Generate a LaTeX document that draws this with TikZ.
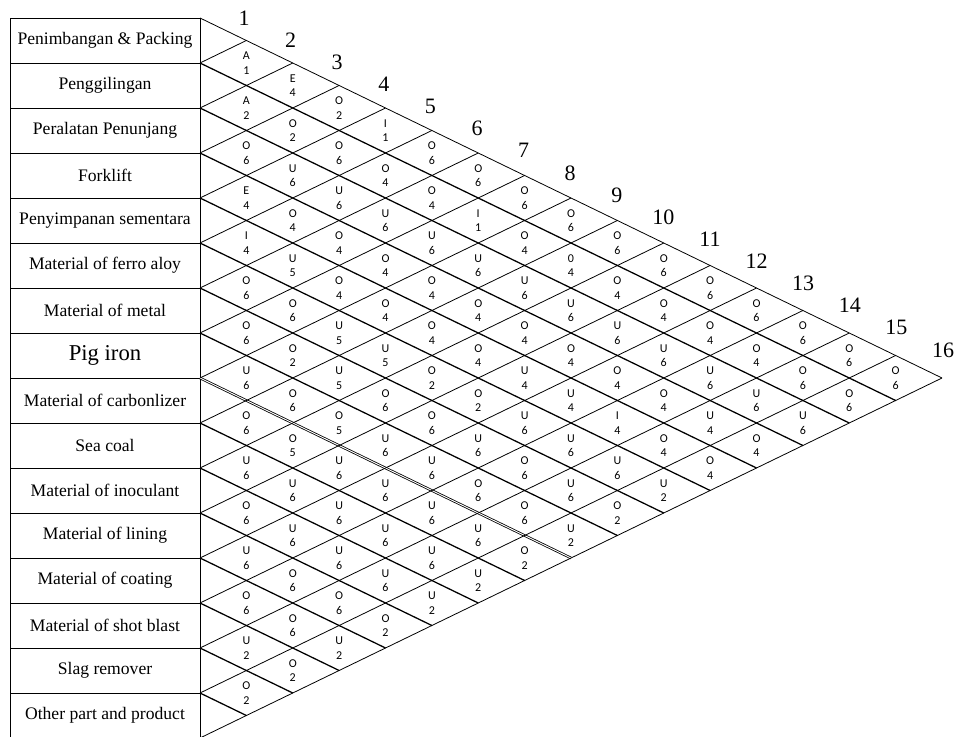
\documentclass[tikz,border=0pt]{standalone}
\usepackage{fontspec}
\setmainfont{Liberation Serif}
\newfontfamily\cellfont{Carlito}
\usetikzlibrary{positioning}
\tikzset{
    dept/.style={rectangle, draw, line width=0.6pt, outer sep=0pt, inner sep=0pt, minimum width=142.5pt, minimum height=33.75pt, align=center, font=\fontsize{13.2}{15}\selectfont},
    rel/.style={align=center, inner sep=0pt, font=\cellfont\fontsize{9}{10.8}\selectfont},
    colnum/.style={inner sep=0pt, font=\fontsize{16.5}{18}\selectfont},
    gridline/.style={line width=0.6pt},
    heavyline/.style={line width=0.95pt}
}

\begin{document}
\begin{tikzpicture}[x=0.75pt, y=-0.75pt]
  \useasboundingbox (0,0) rectangle (955,737);
  % departments
  \node[dept] (d1) at (105,40.5) {Penimbangan \& Packing};
  \node[dept, below=0pt of d1] (d2) {Penggilingan};
  \node[dept, below=0pt of d2] (d3) {Peralatan Penunjang};
  \node[dept, below=0pt of d3] (d4) {Forklift};
  \node[dept, below=0pt of d4] (d5) {Penyimpanan sementara};
  \node[dept, below=0pt of d5] (d6) {Material of ferro aloy};
  \node[dept, below=0pt of d6] (d7) {Material of metal};
  \node[dept, below=0pt of d7, font=\fontsize{17}{19}\selectfont] (d8) {Pig iron};
  \node[dept, below=0pt of d8] (d9) {Material of carbonlizer};
  \node[dept, below=0pt of d9] (d10) {Sea coal};
  \node[dept, below=0pt of d10] (d11) {Material of inoculant};
  \node[dept, below=0pt of d11] (d12) {Material of lining};
  \node[dept, below=0pt of d12] (d13) {Material of coating};
  \node[dept, below=0pt of d13] (d14) {Material of shot blast};
  \node[dept, below=0pt of d14] (d15) {Slag remover};
  \node[dept, below=0pt of d15] (d16) {Other part and product};
  % grid of the chart
  \foreach \k in {0,...,16}
    \coordinate (b\k) at (200,18+45*\k);
  \draw[gridline] (b0) -- ++(742,360);
  \foreach \k in {1,...,7,9,10,...,15}
    \draw[heavyline] (b\k) -- ++({(16-\k)*46.375},{(16-\k)*22.5});
  \draw[gridline, double, double distance=0.7pt] (b8) -- ++(371,180);
  \foreach \k in {1,...,16}
    \draw[gridline] (b\k) -- ++({\k*46.375},{-\k*22.5});
  % relationships, row by row
  \foreach \r/\cells in {
    1/{A/1,E/4,O/2,I/1,O/6,O/6,O/6,O/6,O/6,O/6,O/6,O/6,O/6,O/6,O/6},
    2/{A/2,O/2,O/6,O/4,O/4,I/1,O/4,0/4,O/4,O/4,O/4,O/4,O/6,O/6},
    3/{O/6,U/6,U/6,U/6,U/6,U/6,U/6,U/6,U/6,U/6,U/6,U/6,U/6},
    4/{E/4,O/4,O/4,O/4,O/4,O/4,O/4,O/4,O/4,O/4,U/4,O/4},
    5/{I/4,U/5,O/4,O/4,O/4,O/4,U/4,U/4,I/4,O/4,O/4},
    6/{O/6,O/6,U/5,U/5,O/2,O/2,U/6,U/6,U/6,U/2},
    7/{O/6,O/2,U/5,O/6,O/6,U/6,O/6,U/6,O/2},
    8/{U/6,O/6,O/5,U/6,U/6,O/6,O/6,U/2},
    9/{O/6,O/5,U/6,U/6,U/6,U/6,O/2},
    10/{U/6,U/6,U/6,U/6,U/6,U/2},
    11/{O/6,U/6,U/6,U/6,U/2},
    12/{U/6,O/6,O/6,O/2},
    13/{O/6,O/6,U/2},
    14/{U/2,O/2},
    15/{O/2}}{
    \foreach \l/\n [count=\c] in \cells {
      \pgfmathtruncatemacro{\j}{\r+\c}
      \node[rel] (c\r-\j) at ({200+\c*46.375},{18+(2*\r+\c-1)*22.5}) {\l\\\n};
    }
  }
  % column numbers
  \foreach \k in {1,...,16}
    \node[colnum] (n\k) at ({244+(\k-1)*46.6},{18+(\k-1)*22.13}) {\k};
\end{tikzpicture}
\end{document}
